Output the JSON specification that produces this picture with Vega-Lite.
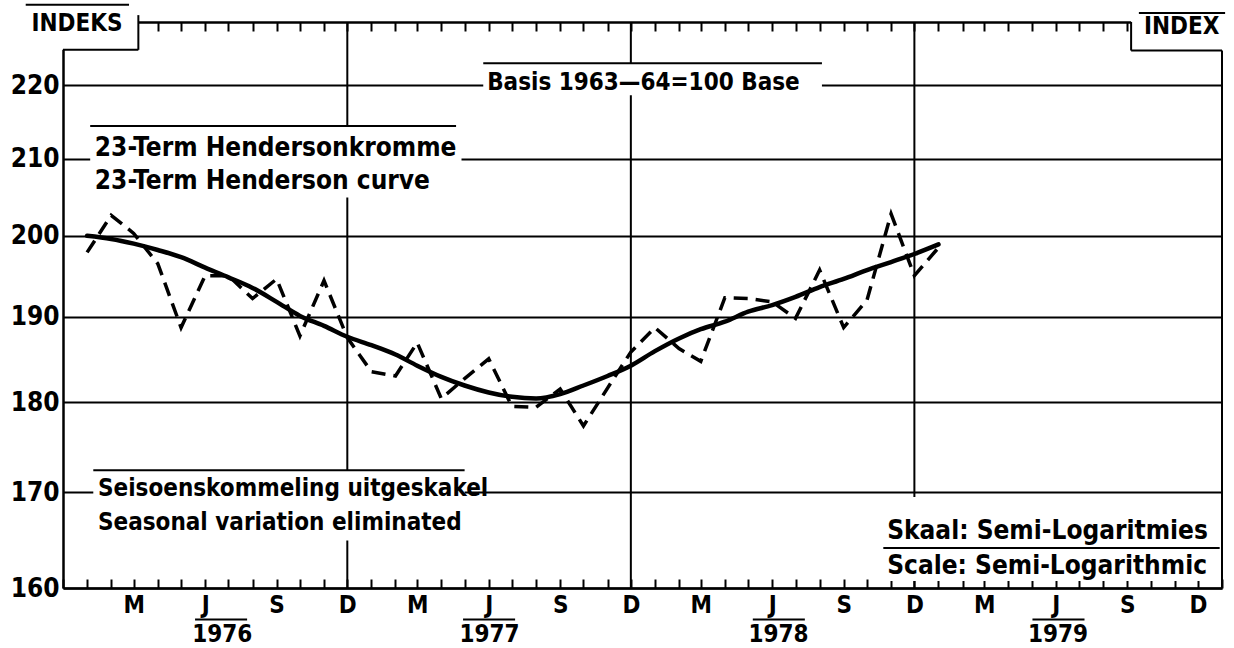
{
  "$schema": "https://vega.github.io/schema/vega-lite/v6.json",
  "width": 1159,
  "height": 566,
  "autosize": {"type": "none"},
  "padding": {"left": 63, "top": 22, "right": 12, "bottom": 60},
  "background": "white",
  "config": {"view": {"stroke": null}, "font": "'DejaVu Sans Condensed', 'Liberation Sans Narrow', 'DejaVu Sans', sans-serif"},
  "resolve": {"axis": {"x": "independent", "y": "independent"}},
  "layer": [
    {
      "data": {"values": [{"date": "1976-12-01"}, {"date": "1977-12-01"}, {"date": "1978-12-01"}]},
      "mark": {"type": "rule", "color": "black", "strokeWidth": 2},
      "encoding": {
        "x": {"field": "date", "type": "temporal", "scale": {"type": "utc", "domain": [{"year": 1975, "month": 12, "date": 1, "utc": true}, {"year": 1980, "month": 1, "date": 1, "utc": true}]}, "axis": null}
      }
    },
    {
      "data": {
        "values": [
          {"start": "1977-05-25", "end": "1978-08-04", "top": 223.1, "bottom": 218.6},
          {"start": "1976-01-05", "end": "1977-04-27", "top": 214.4, "bottom": 204.9},
          {"start": "1976-01-09", "end": "1977-05-01", "top": 172.4, "bottom": 164.9},
          {"start": "1978-10-22", "end": "1979-12-29", "top": 169.5, "bottom": 160.7},
          {"start": "1975-11-24", "end": "1976-03-07", "top": 229.6, "bottom": 225.0},
          {"start": "1979-09-06", "end": "1980-01-10", "top": 229.6, "bottom": 224.9}
        ],
        "format": {"parse": {"start": "date", "end": "date"}}
      },
      "mark": {"type": "rect", "fill": "white", "stroke": null},
      "encoding": {
        "x": {"field": "start", "type": "temporal", "scale": {"type": "utc", "domain": [{"year": 1975, "month": 12, "date": 1, "utc": true}, {"year": 1980, "month": 1, "date": 1, "utc": true}]}, "axis": null},
        "x2": {"field": "end"},
        "y": {"field": "top", "type": "quantitative", "scale": {"type": "log", "domain": [160, 229], "nice": false}, "axis": null},
        "y2": {"field": "bottom"}
      }
    },
    {
      "data": {
        "values": [
          {"start": "1975-12-01", "end": "1976-03-07", "top": 225.0, "bottom": 225.0},
          {"start": "1976-03-07", "end": "1976-03-07", "top": 225.0, "bottom": 230.0},
          {"start": "1975-10-14", "end": "1976-02-24", "top": 231.5, "bottom": 231.5},
          {"start": "1979-09-06", "end": "1979-09-06", "top": 224.9, "bottom": 229.0},
          {"start": "1979-09-06", "end": "1980-01-01", "top": 224.9, "bottom": 224.9},
          {"start": "1979-09-16", "end": "1980-01-05", "top": 230.3, "bottom": 230.3},
          {"start": "1980-01-01", "end": "1980-01-01", "top": 160, "bottom": 224.9},
          {"start": "1977-05-25", "end": "1978-08-04", "top": 223.1, "bottom": 223.1},
          {"start": "1976-01-05", "end": "1977-04-20", "top": 214.4, "bottom": 214.4},
          {"start": "1976-01-09", "end": "1977-05-01", "top": 172.4, "bottom": 172.4},
          {"start": "1978-10-22", "end": "1979-12-29", "top": 164.1, "bottom": 164.1},
          {"start": "1976-05-19", "end": "1976-07-25", "top": 156.85, "bottom": 156.85},
          {"start": "1977-04-29", "end": "1977-07-05", "top": 156.85, "bottom": 156.85},
          {"start": "1978-05-07", "end": "1978-07-13", "top": 156.85, "bottom": 156.85},
          {"start": "1979-05-02", "end": "1979-07-08", "top": 156.85, "bottom": 156.85}
        ],
        "format": {"parse": {"start": "date", "end": "date"}}
      },
      "mark": {"type": "rule", "color": "black", "strokeWidth": 2},
      "encoding": {
        "x": {"field": "start", "type": "temporal", "scale": {"type": "utc", "domain": [{"year": 1975, "month": 12, "date": 1, "utc": true}, {"year": 1980, "month": 1, "date": 1, "utc": true}]}, "axis": null},
        "x2": {"field": "end"},
        "y": {"field": "top", "type": "quantitative", "scale": {"type": "log", "domain": [160, 229], "nice": false}, "axis": null},
        "y2": {"field": "bottom"}
      }
    },
    {
      "data": {
        "values": [
          {"date": "1976-01-01", "value": 197.9},
          {"date": "1976-02-01", "value": 202.6},
          {"date": "1976-03-01", "value": 200.3},
          {"date": "1976-04-01", "value": 196.5},
          {"date": "1976-05-01", "value": 188.7},
          {"date": "1976-06-01", "value": 195.0},
          {"date": "1976-07-01", "value": 195.0},
          {"date": "1976-08-01", "value": 192.2},
          {"date": "1976-09-01", "value": 194.6},
          {"date": "1976-10-01", "value": 187.7},
          {"date": "1976-11-01", "value": 194.4},
          {"date": "1976-12-01", "value": 187.5},
          {"date": "1977-01-01", "value": 183.5},
          {"date": "1977-02-01", "value": 183.0},
          {"date": "1977-03-01", "value": 186.9},
          {"date": "1977-04-01", "value": 180.4},
          {"date": "1977-05-01", "value": 182.7},
          {"date": "1977-06-01", "value": 185.0},
          {"date": "1977-07-01", "value": 179.5},
          {"date": "1977-08-01", "value": 179.4},
          {"date": "1977-09-01", "value": 181.5},
          {"date": "1977-10-01", "value": 177.3},
          {"date": "1977-11-01", "value": 181.6},
          {"date": "1977-12-01", "value": 185.8},
          {"date": "1978-01-01", "value": 188.7},
          {"date": "1978-02-01", "value": 186.2},
          {"date": "1978-03-01", "value": 184.7},
          {"date": "1978-04-01", "value": 192.3},
          {"date": "1978-05-01", "value": 192.2},
          {"date": "1978-06-01", "value": 191.8},
          {"date": "1978-07-01", "value": 189.8},
          {"date": "1978-08-01", "value": 195.7},
          {"date": "1978-09-01", "value": 188.7},
          {"date": "1978-10-01", "value": 192.0},
          {"date": "1978-11-01", "value": 202.8},
          {"date": "1978-12-01", "value": 195.0},
          {"date": "1979-01-01", "value": 198.5}
        ]
      },
      "mark": {"type": "line", "color": "black", "strokeWidth": 3.5, "strokeDash": [14, 8]},
      "encoding": {
        "x": {
          "field": "date", "type": "temporal",
          "scale": {"type": "utc", "domain": [{"year": 1975, "month": 12, "date": 1, "utc": true}, {"year": 1980, "month": 1, "date": 1, "utc": true}]},
          "axis": {
            "orient": "bottom", "title": null, "zindex": 0,
            "tickCount": {"interval": "month", "step": 1},
            "tickSize": -9, "tickWidth": 2, "tickColor": "black",
            "domainColor": "black", "domainWidth": 2.5,
            "grid": false,
            "labelExpr": "utcyear(datum.value)<1976?'':utcmonth(datum.value)==2?'M':utcmonth(datum.value)==5?'J':utcmonth(datum.value)==8?'S':utcmonth(datum.value)==11?'D':''",
            "labelFontSize": 24, "labelFontWeight": "bold", "labelColor": "black",
            "labelPadding": 14, "labelOverlap": false, "labelFlush": false
          }
        },
        "y": {
          "field": "value", "type": "quantitative",
          "scale": {"type": "log", "domain": [160, 229], "nice": false},
          "axis": {
            "orient": "left", "title": null, "zindex": 0,
            "values": [160, 170, 180, 190, 200, 210, 220],
            "format": "d",
            "grid": true, "gridColor": "black", "gridWidth": 2, "gridOpacity": 1,
            "ticks": false,
            "domainColor": "black", "domainWidth": 2.5,
            "labelFontSize": 26, "labelFontWeight": "bold", "labelColor": "black",
            "labelPadding": 4, "labelOverlap": false, "labelFlush": false
          }
        }
      }
    },
    {
      "data": {
        "values": [
          {"date": "1976-01-01", "value": 200.0},
          {"date": "1976-02-01", "value": 199.6},
          {"date": "1976-03-01", "value": 199.0},
          {"date": "1976-04-01", "value": 198.2},
          {"date": "1976-05-01", "value": 197.3},
          {"date": "1976-06-01", "value": 196.0},
          {"date": "1976-07-01", "value": 194.8},
          {"date": "1976-08-01", "value": 193.5},
          {"date": "1976-09-01", "value": 191.8},
          {"date": "1976-10-01", "value": 190.1},
          {"date": "1976-11-01", "value": 188.9},
          {"date": "1976-12-01", "value": 187.6},
          {"date": "1977-01-01", "value": 186.6},
          {"date": "1977-02-01", "value": 185.5},
          {"date": "1977-03-01", "value": 184.2},
          {"date": "1977-04-01", "value": 182.9},
          {"date": "1977-05-01", "value": 181.9},
          {"date": "1977-06-01", "value": 181.1},
          {"date": "1977-07-01", "value": 180.6},
          {"date": "1977-08-01", "value": 180.4},
          {"date": "1977-09-01", "value": 180.9},
          {"date": "1977-10-01", "value": 181.9},
          {"date": "1977-11-01", "value": 183.0},
          {"date": "1977-12-01", "value": 184.2},
          {"date": "1978-01-01", "value": 185.9},
          {"date": "1978-02-01", "value": 187.4},
          {"date": "1978-03-01", "value": 188.5},
          {"date": "1978-04-01", "value": 189.4},
          {"date": "1978-05-01", "value": 190.6},
          {"date": "1978-06-01", "value": 191.4},
          {"date": "1978-07-01", "value": 192.4},
          {"date": "1978-08-01", "value": 193.6},
          {"date": "1978-09-01", "value": 194.6},
          {"date": "1978-10-01", "value": 195.7},
          {"date": "1978-11-01", "value": 196.7},
          {"date": "1978-12-01", "value": 197.7},
          {"date": "1979-01-01", "value": 198.9}
        ]
      },
      "mark": {"type": "line", "color": "black", "strokeWidth": 4.5, "interpolate": "monotone", "strokeCap": "round"},
      "encoding": {
        "x": {
          "field": "date", "type": "temporal",
          "scale": {"type": "utc", "domain": [{"year": 1975, "month": 12, "date": 1, "utc": true}, {"year": 1980, "month": 1, "date": 1, "utc": true}]},
          "axis": {
            "orient": "top", "title": null, "zindex": 0,
            "tickCount": {"interval": "month", "step": 1},
            "tickSize": -9, "tickWidth": 2, "tickColor": "black",
            "domainColor": "black", "domainWidth": 2.5,
            "labels": false, "grid": false
          }
        },
        "y": {"field": "value", "type": "quantitative", "scale": {"type": "log", "domain": [160, 229], "nice": false}, "axis": null}
      }
    },
    {
      "data": {
        "values": [
          {"date": "1977-05-30", "value": 219.3, "text": "Basis 1963—64=100 Base"},
          {"date": "1976-01-15", "value": 169.6, "text": "Seisoenskommeling uitgeskakel"},
          {"date": "1976-01-15", "value": 166.0, "text": "Seasonal variation eliminated"}
        ]
      },
      "mark": {"type": "text", "align": "left", "baseline": "alphabetic", "fontSize": 24, "fontWeight": "bold", "color": "black"},
      "encoding": {
        "x": {"field": "date", "type": "temporal", "scale": {"type": "utc", "domain": [{"year": 1975, "month": 12, "date": 1, "utc": true}, {"year": 1980, "month": 1, "date": 1, "utc": true}]}, "axis": null},
        "y": {"field": "value", "type": "quantitative", "scale": {"type": "log", "domain": [160, 229], "nice": false}, "axis": null},
        "text": {"field": "text"}
      }
    },
    {
      "data": {
        "values": [
          {"date": "1976-01-11", "value": 210.4, "text": "23-Term Hendersonkromme"},
          {"date": "1976-01-11", "value": 206.0, "text": "23-Term Henderson curve"},
          {"date": "1978-10-27", "value": 165.04, "text": "Skaal: Semi-Logaritmies"},
          {"date": "1978-10-27", "value": 161.42, "text": "Scale: Semi-Logarithmic"}
        ]
      },
      "mark": {"type": "text", "align": "left", "baseline": "alphabetic", "fontSize": 26, "fontWeight": "bold", "color": "black"},
      "encoding": {
        "x": {"field": "date", "type": "temporal", "scale": {"type": "utc", "domain": [{"year": 1975, "month": 12, "date": 1, "utc": true}, {"year": 1980, "month": 1, "date": 1, "utc": true}]}, "axis": null},
        "y": {"field": "value", "type": "quantitative", "scale": {"type": "log", "domain": [160, 229], "nice": false}, "axis": null},
        "text": {"field": "text"}
      }
    },
    {
      "data": {
        "values": [
          {"date": "1976-06-23", "value": 155.3, "text": "1976"},
          {"date": "1977-06-02", "value": 155.3, "text": "1977"},
          {"date": "1978-06-09", "value": 155.3, "text": "1978"},
          {"date": "1979-06-04", "value": 155.3, "text": "1979"},
          {"date": "1975-12-19", "value": 228.7, "text": "INDEKS"},
          {"date": "1979-11-10", "value": 228.3, "text": "INDEX"}
        ]
      },
      "mark": {"type": "text", "align": "center", "baseline": "middle", "fontSize": 24, "fontWeight": "bold", "color": "black"},
      "encoding": {
        "x": {"field": "date", "type": "temporal", "scale": {"type": "utc", "domain": [{"year": 1975, "month": 12, "date": 1, "utc": true}, {"year": 1980, "month": 1, "date": 1, "utc": true}]}, "axis": null},
        "y": {"field": "value", "type": "quantitative", "scale": {"type": "log", "domain": [160, 229], "nice": false}, "axis": null},
        "text": {"field": "text"}
      }
    }
  ]
}
